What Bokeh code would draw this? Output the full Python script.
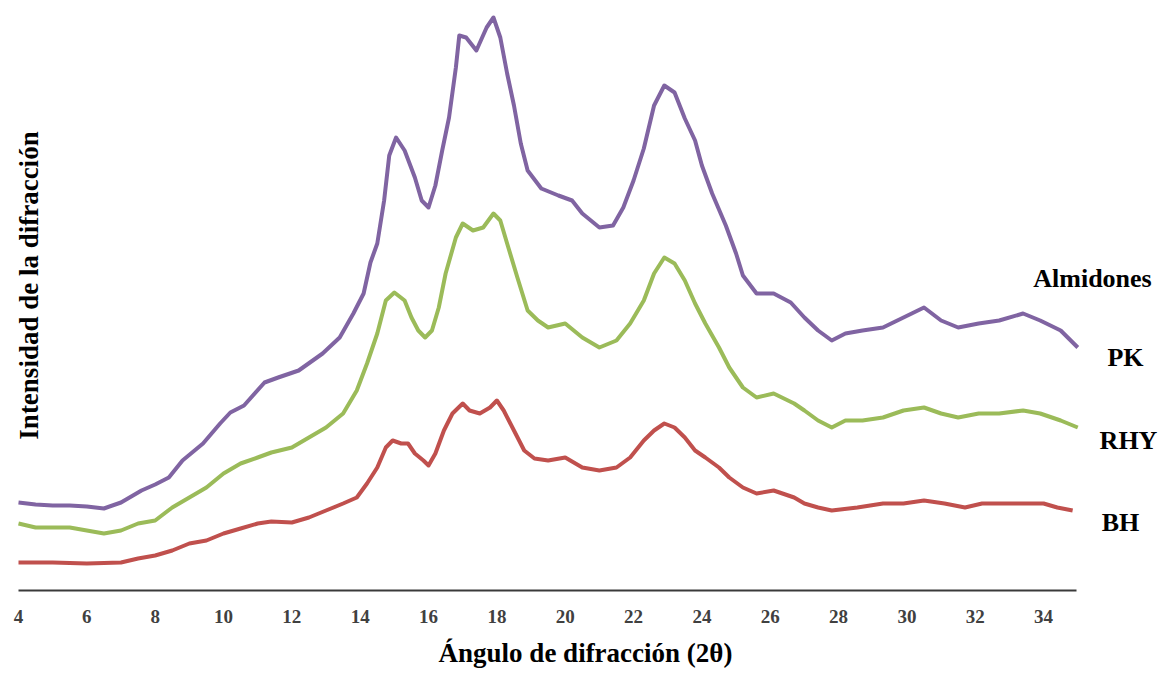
import math
from bokeh.plotting import figure
from bokeh.models import Range1d, LinearAxis, FixedTicker
from bokeh.core.properties import value
from bokeh.embed import file_html
from bokeh.resources import INLINE

# ---- data (2theta in degrees, intensity in arbitrary units) ----
pk_x = [4.0, 4.5, 5.0, 5.5, 6.0, 6.5, 7.0, 7.6, 8.0, 8.4, 8.8, 9.4, 9.9, 10.2, 10.6, 11.2, 11.6,
        12.2, 12.9, 13.4, 13.8, 14.1, 14.3, 14.5, 14.7, 14.85, 15.05, 15.3, 15.6, 15.8, 16.0,
        16.2, 16.4, 16.6, 16.8, 16.9, 17.1, 17.4, 17.7, 17.9, 18.1, 18.3, 18.5, 18.7, 18.9,
        19.3, 19.8, 20.2, 20.5, 21.0, 21.4, 21.7, 22.0, 22.3, 22.6, 22.9, 23.2, 23.5, 23.8,
        24.0, 24.3, 24.7, 25.0, 25.2, 25.6, 26.1, 26.6, 27.0, 27.4, 27.8, 28.2, 28.7, 29.3,
        29.9, 30.5, 31.0, 31.5, 32.1, 32.7, 33.4, 33.9, 34.5, 35.0]
pk_y = [98, 96, 95, 95, 94, 92, 98, 110, 116, 123, 140, 157, 177, 188, 195, 218, 223,
        230, 247, 263, 287, 307, 338, 357, 400, 445, 463, 450, 423, 400, 393,
        415, 450, 483, 533, 565, 563, 550, 573, 583, 563, 527, 495, 457, 430,
        412, 405, 400, 387, 373, 375, 393, 420, 452, 495, 515, 508, 482, 460,
        435, 407, 375, 347, 325, 307, 307, 298, 283, 270, 260, 267, 270, 273,
        283, 293, 280, 273, 277, 280, 287, 280, 270, 253]

rhy_x = [4.0, 4.5, 5.0, 5.5, 6.0, 6.5, 7.0, 7.5, 8.0, 8.5, 9.0, 9.5, 10.0, 10.5, 11.0, 11.4,
         12.0, 12.5, 13.0, 13.5, 13.9, 14.2, 14.5, 14.75, 15.0, 15.3, 15.5, 15.7, 15.9, 16.1,
         16.3, 16.5, 16.8, 17.0, 17.3, 17.6, 17.9, 18.1, 18.3, 18.6, 18.9, 19.2, 19.5, 20.0,
         20.5, 21.0, 21.5, 21.9, 22.3, 22.6, 22.9, 23.2, 23.5, 23.8, 24.1, 24.5, 24.8, 25.2,
         25.6, 26.1, 26.7, 27.0, 27.4, 27.8, 28.2, 28.7, 29.3, 29.9, 30.5, 31.0, 31.5, 32.1,
         32.7, 33.4, 33.9, 34.5, 35.0]
rhy_y = [77, 73, 73, 73, 70, 67, 70, 77, 80, 93, 103, 113, 127, 137, 143, 148,
         153, 163, 173, 187, 210, 237, 267, 300, 308, 300, 283, 270, 263, 270,
         293, 327, 363, 377, 370, 373, 387, 380, 357, 323, 290, 280, 273, 277,
         263, 253, 260, 277, 300, 327, 343, 337, 320, 297, 277, 253, 233, 213,
         203, 207, 197, 190, 180, 173, 180, 180, 183, 190, 193, 187, 183, 187,
         187, 190, 187, 180, 173]

bh_x = [4.0, 5.0, 6.0, 7.0, 7.5, 8.0, 8.5, 9.0, 9.5, 10.0, 10.5, 11.0, 11.4, 12.0, 12.5, 13.0,
        13.5, 13.9, 14.2, 14.5, 14.75, 14.95, 15.2, 15.4, 15.6, 15.85, 16.0, 16.2, 16.45, 16.7,
        17.0, 17.2, 17.5, 17.8, 18.0, 18.2, 18.5, 18.8, 19.1, 19.5, 20.0, 20.5, 21.0, 21.5,
        21.9, 22.3, 22.6, 22.9, 23.2, 23.5, 23.8, 24.1, 24.5, 24.8, 25.2, 25.6, 26.1, 26.7,
        27.0, 27.4, 27.8, 28.55, 29.3, 29.9, 30.5, 31.1, 31.7, 32.2, 32.8, 33.4, 34.0, 34.4,
        34.85]
bh_y = [38, 38, 37, 38, 42, 45, 50, 57, 60, 67, 72, 77, 79, 78, 83, 90,
        97, 103, 117, 133, 153, 160, 157, 157, 147, 140, 135, 147, 170, 187,
        197, 190, 187, 193, 200, 190, 170, 150, 142, 140, 143, 133, 130, 133,
        143, 160, 170, 177, 173, 163, 150, 143, 133, 123, 113, 107, 110, 103,
        97, 93, 90, 93, 97, 97, 100, 97, 93, 97, 97, 97, 97, 93,
        90]

x_ticks = [4, 6, 8, 10, 12, 14, 16, 18, 20, 22, 24, 26, 28, 30, 32, 34]
series_names = ["PK", "RHY", "BH"]
legend_title = "Almidones"
x_title = "Ángulo de difracción (2θ)"
y_title = "Intensidad de la difracción"

colors = {"PK": "#8064A2", "RHY": "#9BBB59", "BH": "#C0504D"}

px_per_deg = 34.17
x_start = 4 + (10 - 18) / px_per_deg
x_end = 4 + (1160 - 18) / px_per_deg

p = figure(width=1160, height=675, output_backend="svg", toolbar_location=None,
           x_range=Range1d(x_start, x_end), y_range=Range1d(10, 600),
           x_axis_location=None, y_axis_location=None,
           min_border_left=10, min_border_right=0, min_border_top=0, min_border_bottom=85)
p.outline_line_color = None
p.grid.visible = False
p.background_fill_color = "white"
p.border_fill_color = "white"

for name, xs, ys in [("BH", bh_x, bh_y), ("RHY", rhy_x, rhy_y), ("PK", pk_x, pk_y)]:
    p.line(xs, ys, line_color=colors[name], line_width=4, line_join="round")

xaxis = LinearAxis(ticker=FixedTicker(ticks=x_ticks), bounds=(4, 34.95))
xaxis.axis_line_color = "#3a3a3a"
xaxis.axis_line_width = 2
xaxis.major_tick_line_color = None
xaxis.minor_tick_line_color = None
xaxis.major_tick_out = 0
xaxis.major_tick_in = 0
xaxis.major_label_standoff = 19
xaxis.major_label_text_font = "Liberation Serif"
xaxis.major_label_text_font_style = "bold"
xaxis.major_label_text_font_size = "19px"
xaxis.major_label_text_color = "#404040"
xaxis.axis_label = x_title
xaxis.axis_label_text_font = "Liberation Serif"
xaxis.axis_label_text_font_style = "bold"
xaxis.axis_label_text_font_size = "27px"
xaxis.axis_label_text_color = "black"
xaxis.axis_label_standoff = 12
p.add_layout(xaxis, "below")

def dx(px):
    return 4 + (px - 18) / px_per_deg

def dy(py):
    return 600 - py

font = value("Liberation Serif")
p.text(x=[dx(28)], y=[dy(285)], text=[y_title], angle=math.pi / 2,
       text_font=font, text_font_style="bold", text_font_size="27px",
       text_align="center", text_baseline="middle", text_color="black")

lab_px = [1092, 1125, 1128, 1120]
lab_base = [278, 357, 440, 522]
lab_text = [legend_title] + series_names
p.text(x=[dx(v) for v in lab_px], y=[dy(v) for v in lab_base], text=lab_text,
       text_font=font, text_font_style="bold", text_font_size="26px",
       text_align="center", text_baseline="alphabetic", text_color="black")

open("out.html", "w").write(file_html(p, INLINE))
